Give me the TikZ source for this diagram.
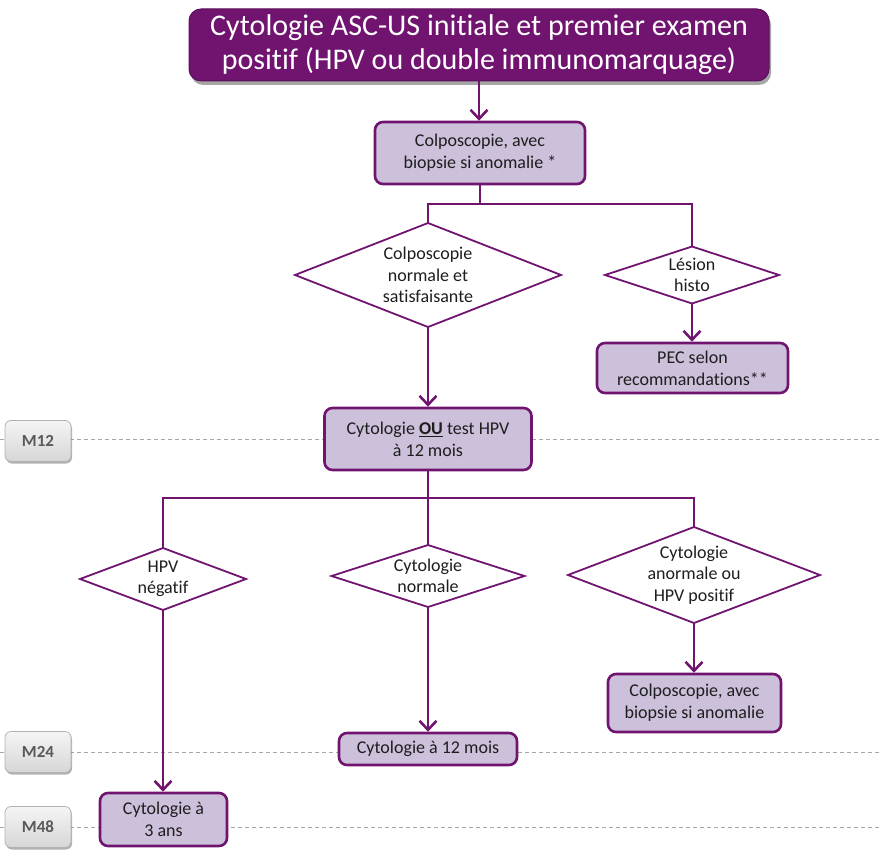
\documentclass[tikz,border=0pt]{standalone}
\usepackage{fontspec}
\setmainfont{Carlito}[RawFeature={-liga}]
\usetikzlibrary{arrows.meta,shapes.geometric,shadows}
\definecolor{plum}{RGB}{112,20,112}
\definecolor{lilac}{RGB}{204,192,218}
\definecolor{txt}{RGB}{30,30,30}
\definecolor{mgray}{RGB}{89,89,89}
\begin{document}
\begin{tikzpicture}[x=1pt,y=-1pt,
 titlebox/.style={draw=plum!80!black, line width=1pt, fill=plum, rounded corners=12pt, inner sep=0pt,
   align=center, text=white, font=\fontsize{30}{34}\selectfont,
   drop shadow={shadow xshift=2pt, shadow yshift=-4pt, fill=black, opacity=0.35}},
 box/.style={draw=plum, line width=2.6pt, fill=lilac, rounded corners=8pt, inner sep=0pt,
   align=center, text=txt, font=\fontsize{18}{22}\selectfont},
 dia/.style={draw=plum, line width=1.8pt, fill=white, diamond, inner sep=0pt, outer sep=0pt},
 dtext/.style={align=center, text=txt, font=\fontsize{18}{21.5}\selectfont, inner sep=0pt},
 conn/.style={draw=plum, line width=2.6pt},
 arr/.style={conn, -{Straight Barb[length=9pt,width=17pt,line width=2.6pt]}},
 mlab/.style={draw=gray!60, line width=0.8pt, rounded corners=6pt, top color=gray!8, bottom color=gray!32,
   minimum width=66pt, minimum height=41pt, inner sep=0pt, text=mgray, font=\fontsize{17}{20}\selectfont\bfseries,
   drop shadow={shadow xshift=1pt, shadow yshift=-2pt, fill=black, opacity=0.3}},
 dline/.style={draw=gray!70, line width=0.8pt, dash pattern=on 4pt off 3pt}]

\useasboundingbox (0,0) rectangle (880,853);

% timeline guides
\coordinate (l12) at (0,439);  \coordinate (r12) at (880,439);
\coordinate (l24) at (0,752);  \coordinate (r24) at (880,752);
\coordinate (l48) at (0,827);  \coordinate (r48) at (880,827);
\draw[dline] (l12) -- (r12);
\draw[dline] (l24) -- (r24);
\draw[dline] (l48) -- (r48);

\node[mlab] (m12) at (38,441) {M12};
\node[mlab] (m24) at (38,752) {M24};
\node[mlab] (m48) at (38,827) {M48};

% nodes
\node[titlebox, minimum width=580pt, minimum height=72pt] (top) at (479,45)
  {Cytologie ASC-US initiale et premier examen\\positif (HPV ou double immunomarquage)};
\node[box, minimum width=210pt, minimum height=62pt] (b1) at (480,153)
  {Colposcopie, avec\\biopsie si anomalie *};

\node[dia, minimum width=266pt, minimum height=104pt] (d1) at (428,275) {};
\node[dtext] (d1t) at (d1) {Colposcopie\\normale et\\satisfaisante};
\node[dia, minimum width=174pt, minimum height=57pt] (d2) at (692,275) {};
\node[dtext] (d2t) at (d2) {Lésion\\histo};

\node[box, minimum width=191pt, minimum height=50pt] (pec) at (692.5,368)
  {PEC selon\\recommandations**};

\node[box, minimum width=207pt, minimum height=62pt] (b2) at (428,439)
  {Cytologie \textbf{\underline{OU}} test HPV\\à 12 mois};

\node[dia, minimum width=166pt, minimum height=62pt] (d3) at (163,579) {};
\node[dtext] (d3t) at (d3) {HPV\\négatif};
\node[dia, minimum width=193pt, minimum height=62pt] (d4) at (428,576) {};
\node[dtext] (d4t) at (d4) {Cytologie\\normale};
\node[dia, minimum width=252pt, minimum height=96pt] (d5) at (694,575) {};
\node[dtext] (d5t) at (d5) {Cytologie\\anormale ou\\HPV positif};

\node[box, minimum width=173pt, minimum height=58pt] (colpo2) at (694.5,703)
  {Colposcopie, avec\\biopsie si anomalie};
\node[box, minimum width=178pt, minimum height=32pt] (cyt12) at (428,749)
  {Cytologie à 12 mois};
\node[box, minimum width=127pt, minimum height=53pt] (cyt3) at (163.5,819.5)
  {Cytologie à\\3 ans};

% connectors
\coordinate (j1) at (480,204);
\coordinate (j2) at (428,498);
\draw[arr] (top.south) -- (top.south |- b1.north);
\draw[conn] (b1.south) -- (j1);
\draw[conn] (d1.north) |- (j1) -| (d2.north);
\draw[arr] (d1.south) -- (d1.south |- b2.north);
\draw[arr] (d2.south) -- (d2.south |- pec.north);
\draw[conn] (b2.south) -- (j2);
\draw[conn] (d3.north) |- (j2) -| (d5.north);
\draw[conn] (j2) -- (d4.north);
\draw[arr] (d3.south) -- (d3.south |- cyt3.north);
\draw[arr] (d4.south) -- (d4.south |- cyt12.north);
\draw[arr] (d5.south) -- (d5.south |- colpo2.north);
\end{tikzpicture}
\end{document}
